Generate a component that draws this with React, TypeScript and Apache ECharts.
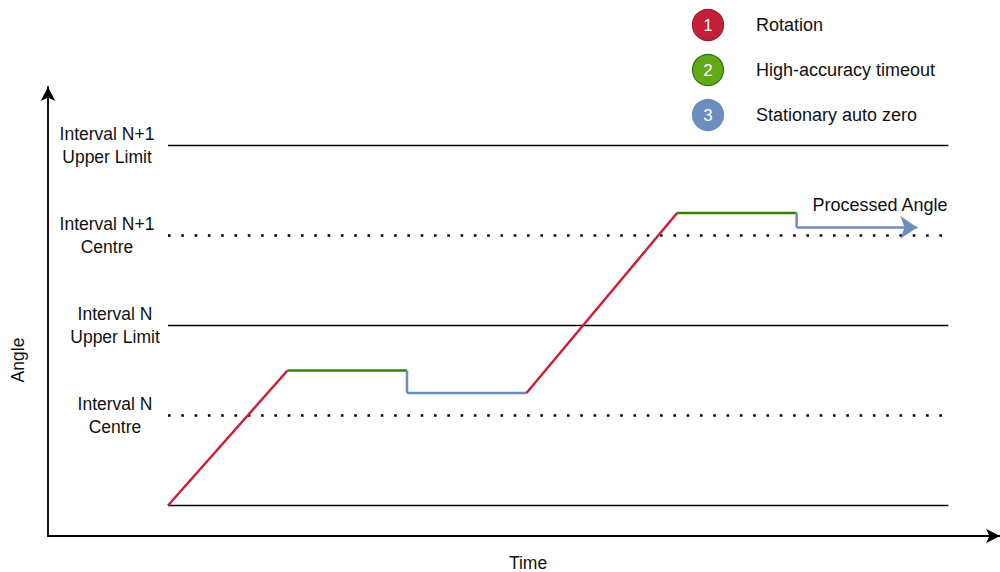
import React, { useEffect, useRef } from "react";
import * as echarts from "echarts";

// Processed angle path (time units, angle in interval units)
const timePts = [0, 1, 2, 2, 3, 4.26, 5.26, 5.26, 6.27];
const anglePts = [0, 1.5, 1.5, 1.25, 1.25, 3.25, 3.25, 3.09, 3.09];
// phase of each segment between consecutive points (1 rotation, 2 timeout, 3 auto zero)
const segmentPhase = [1, 2, 3, 3, 1, 2, 3, 3];

// Reference levels
const levelValues = [0, 1, 2, 3, 4];
const levelDotted = [false, true, false, true, false];
const levelLabels = ["", "Interval N\nCentre", "Interval N\nUpper Limit", "Interval N+1\nCentre", "Interval N+1\nUpper Limit"];
const levelStart = 0;
const levelEnd = 6.53;

const legendNames = ["Rotation", "High-accuracy timeout", "Stationary auto zero"];
const phaseColors = ["#C8223A", "#348200", "#6C8EBF"];
const legendFill = ["#C41F38", "#60A917", "#6C8EBF"];
const legendStroke = ["#A0182D", "#2D7600", "#6C8EBF"];

const X_MIN = -1.004;
const X_MAX = 6.962;
const Y_MIN = -0.339;
const Y_MAX = 4.65;

const FONT = "'Liberation Sans', Arial, Helvetica, sans-serif";

export default function App() {
  const ref = useRef<HTMLDivElement>(null);
  useEffect(() => {
    if (!ref.current) return;
    const chart = echarts.init(ref.current, null, { renderer: "svg" });
    const axisLineStyle = { color: "#000", width: 1.8 };

    const series: any[] = [];
    levelValues.forEach((lv, i) => {
      series.push({
        type: "line",
        silent: true,
        symbol: "none",
        data: [
          [levelStart, lv],
          [levelEnd, lv],
        ],
        lineStyle: levelDotted[i]
          ? { color: "#000", width: 2.6, type: [2.6, 10.7], cap: "butt" }
          : { color: "#000", width: 1.5 },
        z: 1,
      });
    });

    const last = segmentPhase.length - 1;
    segmentPhase.forEach((ph, i) => {
      const a = [timePts[i], anglePts[i]];
      const b = [timePts[i + 1], anglePts[i + 1]];
      const color = phaseColors[ph - 1];
      if (i === last) {
        series.push({
          type: "lines",
          coordinateSystem: "cartesian2d",
          silent: true,
          symbol: ["none", "arrow"],
          symbolSize: [15, 17],
          lineStyle: { color, width: 2.5, opacity: 1 },
          label: {
            show: true,
            position: "middle",
            formatter: "Processed Angle",
            color: "#111",
            fontSize: 18,
            fontFamily: FONT,
            offset: [23, -13],
          },
          data: [{ coords: [a, b] }],
          z: 3,
        });
      } else {
        series.push({
          type: "line",
          silent: true,
          symbol: "none",
          data: [a, b],
          lineStyle: { color, width: 2.5 },
          z: 3,
        });
      }
    });

    const graphic: any[] = [];
    legendNames.forEach((name, i) => {
      const cy = 25 + 45 * i;
      graphic.push({
        type: "circle",
        shape: { cx: 708, cy, r: 15.5 },
        style: { fill: legendFill[i], stroke: legendStroke[i], lineWidth: 1.2 },
      });
      graphic.push({
        type: "text",
        x: 708,
        y: cy,
        style: {
          text: String(i + 1),
          fill: "#fff",
          fontSize: 17,
          fontFamily: FONT,
          align: "center",
          verticalAlign: "middle",
        },
      });
      graphic.push({
        type: "text",
        x: 756,
        y: cy,
        style: {
          text: name,
          fill: "#111",
          fontSize: 18,
          fontFamily: FONT,
          align: "left",
          verticalAlign: "middle",
        },
      });
    });
    graphic.push({
      type: "text",
      x: 18,
      y: 360,
      rotation: Math.PI / 2,
      style: { text: "Angle", fill: "#111", fontSize: 17.5, fontFamily: FONT, align: "center", verticalAlign: "middle" },
    });
    graphic.push({
      type: "text",
      x: 528,
      y: 563,
      style: { text: "Time", fill: "#111", fontSize: 17.5, fontFamily: FONT, align: "center", verticalAlign: "middle" },
    });

    chart.setOption({
      animation: false,
      backgroundColor: "#fff",
      grid: { left: 48, right: 0, top: 87, bottom: 36 },
      xAxis: {
        type: "value",
        min: X_MIN,
        max: X_MAX,
        axisLine: { show: true, onZero: false, symbol: ["none", "arrow"], symbolSize: [11, 14], lineStyle: axisLineStyle },
        axisTick: { show: false },
        axisLabel: { show: false },
        splitLine: { show: false },
      },
      yAxis: {
        type: "value",
        min: Y_MIN,
        max: Y_MAX,
        axisLine: { show: true, onZero: false, symbol: ["none", "arrow"], symbolSize: [11, 14], lineStyle: axisLineStyle },
        axisTick: { show: false },
        splitLine: { show: false },
        axisLabel: {
          show: true,
          customValues: levelValues.slice(1),
          margin: -63,
          align: "center",
          verticalAlign: "middle",
          lineHeight: 23,
          color: "#111",
          fontSize: 17.5,
          fontFamily: FONT,
          formatter: (v: number) => {
            const idx = levelValues.findIndex((x) => Math.abs(x - v) < 1e-6);
            if (idx < 0) return "";
            const style = idx >= 3 ? "a" : "b";
            return levelLabels[idx]
              .split("\n")
              .map((s) => `{${style}|${s}}`)
              .join("\n");
          },
          rich: {
            a: { padding: [0, 8, 0, 0], fontSize: 17.5, lineHeight: 23, color: "#111", fontFamily: FONT },
            b: { padding: [0, 0, 0, 8], fontSize: 17.5, lineHeight: 23, color: "#111", fontFamily: FONT },
          },
        },
      },
      series,
      graphic,
    });
    return () => chart.dispose();
  }, []);
  return <div ref={ref} style={{ position: "fixed", left: 0, top: 0, width: 1000, height: 572 }} />;
}
